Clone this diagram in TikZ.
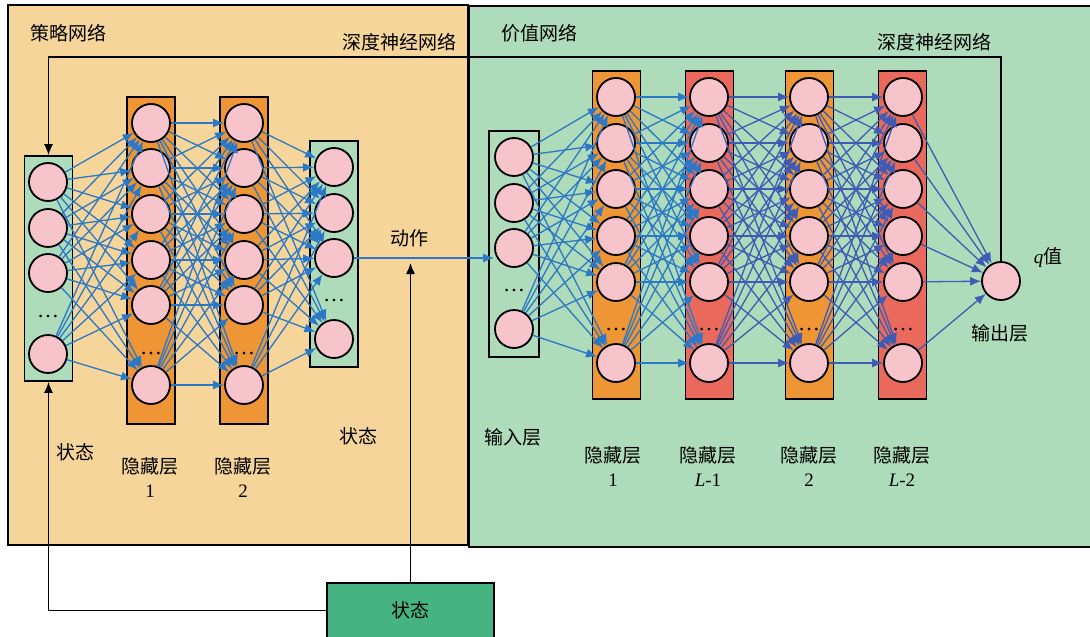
\documentclass[tikz,border=0pt]{standalone}
\usepackage{fontspec}
\setmainfont{Liberation Serif}
\newfontfamily\cjk{Noto Sans CJK SC}
\usetikzlibrary{arrows.meta}

\definecolor{policybg}{HTML}{F6D59B}
\definecolor{valuebg}{HTML}{AEDBBA}
\definecolor{layergreen}{HTML}{AEDBBA}
\definecolor{layerorange}{HTML}{EE9535}
\definecolor{layerred}{HTML}{E96A5C}
\definecolor{neuron}{HTML}{F7C4CB}
\definecolor{linkblue}{HTML}{2B78C6}
\definecolor{linkindigo}{HTML}{3F5CB5}
\definecolor{statefill}{HTML}{45B482}

\begin{document}
\begin{tikzpicture}[x=1pt,y=-1pt,
  panel/.style={draw=black,line width=1.6pt},
  layerbox/.style={draw=black,line width=1.8pt,minimum width=48pt,inner sep=0pt},
  neuronnode/.style={circle,draw=black,line width=1.8pt,fill=neuron,minimum size=38pt,inner sep=0pt},
  dotsnode/.style={font=\fontsize{22}{22}\selectfont,inner sep=0pt},
  link/.style={draw=linkblue,line width=1.3pt,-{Latex[length=11pt,width=9pt]}},
  linkdeep/.style={link,draw=linkindigo},
  flow/.style={draw=black,line width=1.3pt,-{Latex[length=11pt,width=9pt]}},
  lbl/.style={font=\fontsize{19}{24}\selectfont,inner sep=0pt,align=center},
]
\useasboundingbox (0,0) rectangle (1090,637);

% panels
\node[panel,fill=policybg,minimum width=460pt,minimum height=540pt,inner sep=0pt] (policy) at (238,275) {};
\node[panel,fill=valuebg,minimum width=630pt,minimum height=541pt,inner sep=0pt] (value) at (784,276.5) {};

% ---------- policy network layers ----------
\node[layerbox,fill=layergreen,minimum height=225pt] (pibox) at (48.5,268.5) {};
\node[layerbox,fill=layerorange,minimum height=327pt] (pabox) at (151,260.5) {};
\node[layerbox,fill=layerorange,minimum height=327pt] (pbbox) at (244,260.5) {};
\node[layerbox,fill=layergreen,minimum height=226pt] (pobox) at (334,254) {};

\foreach \i/\y in {1/182,2/228,3/273,4/354}
  \node[neuronnode] (pi\i) at (48,\y) {};
\foreach \i/\y in {1/123,2/168,3/214,4/260,5/305,6/385} {
  \node[neuronnode] (pa\i) at (151,\y) {};
  \node[neuronnode] (pb\i) at (244,\y) {};
}
\foreach \i/\y in {1/167,2/213,3/258,4/339}
  \node[neuronnode] (po\i) at (334,\y) {};

\node[dotsnode] (pidots) at (48,317) {…};
\node[dotsnode] (padots) at (151,354) {…};
\node[dotsnode] (pbdots) at (244,354) {…};
\node[dotsnode] (podots) at (334,301) {…};

\foreach \i in {1,...,4}
  \foreach \j in {1,...,6}
    \draw[link] (pi\i) -- (pa\j);
\foreach \i in {1,...,6}
  \foreach \j in {1,...,6}
    \draw[link] (pa\i) -- (pb\j);
\foreach \i in {1,...,6}
  \foreach \j in {1,...,4}
    \draw[link] (pb\i) -- (po\j);

% ---------- value network layers ----------
\node[layerbox,fill=valuebg,minimum width=50pt,minimum height=226pt] (vibox) at (514,244) {};
\node[layerbox,fill=layerorange,minimum height=328pt] (vabox) at (616.5,235) {};
\node[layerbox,fill=layerred,minimum height=328pt] (vbbox) at (709.5,235) {};
\node[layerbox,fill=layerorange,minimum height=328pt] (vcbox) at (809.5,235) {};
\node[layerbox,fill=layerred,minimum height=328pt] (vdbox) at (902.5,235) {};

\foreach \i/\y in {1/157,2/203,3/248,4/329}
  \node[neuronnode] (vi\i) at (514,\y) {};
\foreach \i/\y in {1/97,2/143,3/189,4/236,5/282,6/363} {
  \node[neuronnode] (va\i) at (616,\y) {};
  \node[neuronnode] (vb\i) at (709,\y) {};
  \node[neuronnode] (vc\i) at (809,\y) {};
  \node[neuronnode] (vd\i) at (903,\y) {};
}
\node[neuronnode] (q) at (1001,281) {};

\node[dotsnode] (vidots) at (514,291) {…};
\node[dotsnode] (vadots) at (616,330) {…};
\node[dotsnode] (vbdots) at (709,330) {…};
\node[dotsnode] (vcdots) at (809,330) {…};
\node[dotsnode] (vddots) at (903,330) {…};

\foreach \i in {1,...,4}
  \foreach \j in {1,...,6}
    \draw[link] (vi\i) -- (va\j);
\foreach \i in {1,...,6}
  \foreach \j in {1,...,6} {
    \draw[link] (va\i) -- (vb\j);
    \draw[linkdeep] (vb\i) -- (vc\j);
    \draw[linkdeep] (vc\i) -- (vd\j);
  }
\foreach \i in {1,...,6}
  \draw[linkdeep] (vd\i) -- (q);

% action passed from the policy net to the value net
\draw[link] (po3.east) -- (po3.east -| vi3.west);

% state source and feedback
\node[draw=black,line width=1.6pt,fill=statefill,minimum width=167pt,minimum height=55pt,inner sep=0pt,font=\cjk\fontsize{19}{24}\selectfont] (state) at (410.5,610.5) {状态};
\coordinate (acttip) at (410.5,263);
\coordinate (fbcorner) at (48.5,57);
\draw[flow] (state.north) -- (acttip);
\draw[flow] (state.west) -| (pibox.south);
\draw[flow] (q.north) |- (fbcorner) -- (pibox.north);

% labels
\node[lbl,anchor=west] (tpolicy) at (30,33) {\cjk 策略网络};
\node[lbl] (tdnn1) at (399,42) {\cjk 深度神经网络};
\node[lbl,anchor=west] (tvalue) at (501,33) {\cjk 价值网络};
\node[lbl] (tdnn2) at (934,42) {\cjk 深度神经网络};
\node[lbl] (tstate1) at (75,452) {\cjk 状态};
\node[lbl] (tpa) at (150,478) {{\cjk 隐藏层}\\1};
\node[lbl] (tpb) at (243,478) {{\cjk 隐藏层}\\2};
\node[lbl] (tstate2) at (358,436) {\cjk 状态};
\node[lbl] (taction) at (409,238) {\cjk 动作};
\node[lbl] (tinput) at (513,437) {\cjk 输入层};
\node[lbl] (tva) at (613,467) {{\cjk 隐藏层}\\1};
\node[lbl] (tvb) at (708,467) {{\cjk 隐藏层}\\\textit{L}-1};
\node[lbl] (tvc) at (809,467) {{\cjk 隐藏层}\\2};
\node[lbl] (tvd) at (902,467) {{\cjk 隐藏层}\\\textit{L}-2};
\node[lbl] (tq) at (1048,258) {\textit{q}{\cjk 值}};
\node[lbl] (toutput) at (1000,333) {\cjk 输出层};
\end{tikzpicture}
\end{document}
